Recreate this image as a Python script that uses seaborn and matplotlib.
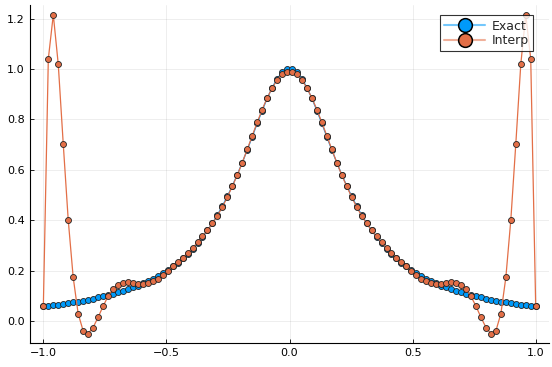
import numpy as np
import pandas as pd
import matplotlib
matplotlib.use("Agg")
import matplotlib.pyplot as plt
import matplotlib.colors as mcolors
import seaborn as sns

# sample grid: 100 evenly spaced points on [-1, 1]
x_values = np.linspace(-1.0, 1.0, 100)

# values for the left half (x < 0); the chart is symmetric
exact_left = [
    0.059, 0.061, 0.064, 0.066, 0.069, 0.072, 0.075, 0.078, 0.082, 0.085,
    0.089, 0.094, 0.098, 0.103, 0.108, 0.114, 0.120, 0.127, 0.134, 0.141,
    0.150, 0.159, 0.168, 0.179, 0.191, 0.203, 0.217, 0.232, 0.249, 0.267,
    0.287, 0.309, 0.333, 0.360, 0.389, 0.421, 0.457, 0.495, 0.537, 0.581,
    0.629, 0.679, 0.731, 0.784, 0.835, 0.883, 0.926, 0.961, 0.986, 0.998,
]
interp_left = [
    0.059, 1.040, 1.215, 1.018, 0.703, 0.402, 0.174, 0.030, -0.038, -0.049,
    -0.025, 0.015, 0.059, 0.098, 0.128, 0.145, 0.153, 0.154, 0.151, 0.148,
    0.148, 0.151, 0.158, 0.168, 0.183, 0.199, 0.218, 0.235, 0.252, 0.270,
    0.290, 0.312, 0.336, 0.360, 0.388, 0.418, 0.453, 0.492, 0.535, 0.579,
    0.629, 0.681, 0.735, 0.788, 0.839, 0.885, 0.924, 0.957, 0.979, 0.989,
]

exact_values = exact_left + exact_left[::-1]
interp_values = interp_left + interp_left[::-1]

x_ticks = [-1.0, -0.5, 0.0, 0.5, 1.0]
y_ticks = [0.0, 0.2, 0.4, 0.6, 0.8, 1.0, 1.2]

df = pd.DataFrame({
    "x": x_values,
    "Exact": exact_values,
    "Interp": interp_values,
})

sns.set_theme(style="white")
plt.rcParams["font.family"] = ["DejaVu Sans"]

fig, ax = plt.subplots(figsize=(5.52, 3.67), dpi=100)
fig.subplots_adjust(left=0.054, right=0.995, bottom=0.065, top=0.986)

series_colors = {"Exact": "#009AFA", "Interp": "#E36F47"}
for name in ["Exact", "Interp"]:
    sns.lineplot(
        data=df,
        x="x",
        y=name,
        ax=ax,
        color=series_colors[name],
        linewidth=0.9,
        marker="o",
        markersize=4.3,
        markeredgecolor="#222222",
        markeredgewidth=0.6,
        label=name,
    )

ax.set_xlim(-1.055, 1.055)
ax.set_ylim(-0.087, 1.253)
ax.set_xticks(x_ticks)
ax.set_yticks(y_ticks)
ax.set_xticklabels([f"{t:.1f}".replace("-", "\u2212") for t in x_ticks])
ax.set_yticklabels([f"{t:.1f}" for t in y_ticks])
ax.set_xlabel("")
ax.set_ylabel("")

ax.grid(True, color="black", alpha=0.08, linewidth=0.6)
for side in ["top", "right"]:
    ax.spines[side].set_visible(False)
for side in ["left", "bottom"]:
    ax.spines[side].set_color("black")
    ax.spines[side].set_linewidth(0.8)
ax.tick_params(axis="both", direction="in", length=3, width=0.6,
               labelsize=8, colors="black", left=True, bottom=True)

leg = ax.legend(loc="upper right", fontsize=9, markerscale=2.3,
                frameon=True, fancybox=False, borderaxespad=0.0,
                bbox_to_anchor=(0.969, 0.97),
                handlelength=3.3, borderpad=0.35, labelspacing=0.1,
                handletextpad=0.5)
leg.get_frame().set_edgecolor("black")
leg.get_frame().set_linewidth(0.8)
for line, name in zip(leg.get_lines(), ["Exact", "Interp"]):
    rgb = np.array(mcolors.to_rgb(series_colors[name]))
    light = 0.55 * rgb + 0.45
    line.set_color(tuple(light))
    line.set_markerfacecolor(series_colors[name])
    line.set_markeredgecolor("black")
    line.set_linewidth(1.5)
    line.set_markeredgewidth(1.1)

fig.savefig("out.png", dpi=100)
plt.close(fig)
